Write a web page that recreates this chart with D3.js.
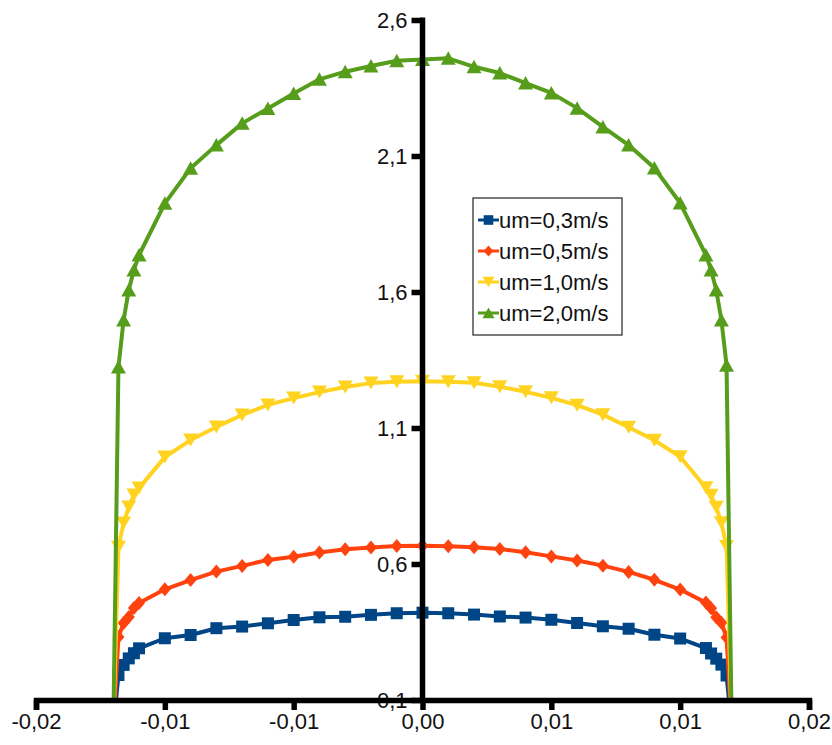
<!DOCTYPE html>
<html>
<head>
<meta charset="utf-8">
<script src="https://cdn.jsdelivr.net/npm/d3@7"></script>
<style>
  html, body { margin: 0; padding: 0; background: #fff; }
  svg { display: block; font-family: "Liberation Sans", Arial, sans-serif; }
</style>
</head>
<body>
<svg id="chart" width="832" height="745"></svg>
<script>
// ---- data ----
const positions = [-0.012, -0.0118, -0.0116, -0.0114, -0.0112, -0.011, -0.010, -0.009, -0.008, -0.007, -0.006, -0.005, -0.004, -0.003, -0.002, -0.001, 0,
                   0.001, 0.002, 0.003, 0.004, 0.005, 0.006, 0.007, 0.008, 0.009, 0.010, 0.011, 0.0112, 0.0114, 0.0116, 0.0118, 0.012];
const seriesNames = ["um=0,3m/s", "um=0,5m/s", "um=1,0m/s", "um=2,0m/s"];
const um03 = [0, 0.192, 0.229, 0.253, 0.272, 0.290, 0.327, 0.339, 0.364, 0.370, 0.382, 0.394, 0.404, 0.406, 0.413, 0.419, 0.421,
              0.419, 0.414, 0.407, 0.403, 0.395, 0.383, 0.371, 0.362, 0.340, 0.326, 0.291, 0.271, 0.252, 0.230, 0.190, 0];
const um05 = [0, 0.332, 0.383, 0.405, 0.438, 0.457, 0.507, 0.541, 0.572, 0.593, 0.615, 0.627, 0.642, 0.654, 0.661, 0.666, 0.667,
              0.665, 0.662, 0.655, 0.643, 0.628, 0.613, 0.594, 0.571, 0.542, 0.506, 0.458, 0.437, 0.404, 0.384, 0.330, 0];
const um10 = [0, 0.662, 0.751, 0.810, 0.854, 0.879, 0.993, 1.056, 1.104, 1.148, 1.185, 1.210, 1.232, 1.251, 1.265, 1.270, 1.272,
              1.270, 1.266, 1.252, 1.233, 1.211, 1.184, 1.149, 1.103, 1.055, 0.994, 0.880, 0.853, 0.809, 0.752, 0.664, 0];
const um20 = [0, 1.324, 1.497, 1.607, 1.681, 1.736, 1.926, 2.055, 2.140, 2.220, 2.275, 2.330, 2.382, 2.410, 2.431, 2.450, 2.455,
              2.459, 2.428, 2.405, 2.368, 2.332, 2.276, 2.207, 2.140, 2.056, 1.927, 1.736, 1.681, 1.607, 1.497, 1.331, 0];
const xTicks = [-0.015, -0.010, -0.005, 0, 0.005, 0.010, 0.015];
const xTickLabels = ["-0,02", "-0,01", "-0,01", "0,00", "0,01", "0,01", "0,02"];
const yTicks = [0.1, 0.6, 1.1, 1.6, 2.1, 2.6];
const yTickLabels = ["0,1", "0,6", "1,1", "1,6", "2,1", "2,6"];

// ---- styling ----
const colors = ["#004586", "#ff420e", "#ffd320", "#579d1c"];
const markers = ["square", "diamond", "triDown", "triUp"];
const allValues = [um03, um05, um10, um20];

const svg = d3.select("#chart");
const x = d3.scaleLinear().domain([-0.015, 0.015]).range([36, 809]);
const y = d3.scaleLinear().domain([0.1, 2.6]).range([700, 20]);

function markerPath(type) {
  switch (type) {
    case "square": return "M-6,-6H6V6H-6Z";
    case "diamond": return "M0,-7L6,0L0,7L-6,0Z";
    case "triDown": return "M-7.5,-6.5H7.5L0,6.5Z";
    case "triUp": return "M0,-7L7.5,6.5H-7.5Z";
  }
}

// clip for plot area
svg.append("defs").append("clipPath").attr("id", "plotclip")
  .append("rect").attr("x", 0).attr("y", 0).attr("width", 832).attr("height", 703);

// y axis (labels drawn under x axis)
const yAxis = d3.axisLeft(y).tickValues(yTicks)
  .tickFormat((d, i) => yTickLabels[i])
  .tickSizeInner(11).tickSizeOuter(0).tickPadding(4);
const gy = svg.append("g").attr("transform", `translate(${x(0)},0)`).call(yAxis);
gy.select(".domain").remove();
gy.selectAll(".tick line").attr("stroke", "#000").attr("stroke-width", 5.5);
gy.selectAll(".tick text").attr("fill", "#111").style("font-size", "22px");

// series
const line = d3.line().x((d) => x(d[0])).y((d) => y(d[1]));
const plot = svg.append("g").attr("clip-path", "url(#plotclip)");
allValues.forEach((vals, si) => {
  const pts = positions.map((p, i) => [p, vals[i]]);
  plot.append("path").datum(pts)
    .attr("fill", "none").attr("stroke", colors[si]).attr("stroke-width", 4)
    .attr("stroke-linejoin", "round").attr("d", line);
  plot.selectAll(null).data(pts).enter().append("path")
    .attr("d", markerPath(markers[si]))
    .attr("transform", (d) => `translate(${x(d[0])},${y(d[1])})`)
    .attr("fill", colors[si]);
});

// y axis line (on top of series)
svg.append("line")
  .attr("x1", x(0)).attr("x2", x(0))
  .attr("y1", y(2.6) - 2.5).attr("y2", y(0.1))
  .attr("stroke", "#000").attr("stroke-width", 5.5);

// x axis
const xAxis = d3.axisBottom(x).tickValues(xTicks)
  .tickFormat((d, i) => xTickLabels[i])
  .tickSizeInner(10).tickSizeOuter(10).tickPadding(3);
const gx = svg.append("g").attr("transform", `translate(0,${y(0.1)})`).call(xAxis);
gx.select(".domain").attr("stroke", "#000").attr("stroke-width", 5.5);
gx.selectAll(".tick line").attr("stroke", "#000").attr("stroke-width", 5.5);
gx.selectAll(".tick text").attr("fill", "#111").style("font-size", "22px");

// legend
const lg = svg.append("g").attr("transform", "translate(473,198)");
lg.append("rect").attr("width", 149).attr("height", 137)
  .attr("fill", "#fff").attr("stroke", "#333").attr("stroke-width", 1.3);
seriesNames.forEach((name, i) => {
  const cy = 22 + i * 31;
  lg.append("line").attr("x1", 5).attr("x2", 26).attr("y1", cy).attr("y2", cy)
    .attr("stroke", colors[i]).attr("stroke-width", 3);
  lg.append("path").attr("d", markerPath(markers[i]))
    .attr("transform", `translate(15.5,${cy}) scale(0.8)`).attr("fill", colors[i]);
  lg.append("text").attr("x", 26).attr("y", cy).attr("dy", "0.35em")
    .attr("fill", "#111").style("font-size", "22px").text(name);
});
</script>
</body>
</html>
